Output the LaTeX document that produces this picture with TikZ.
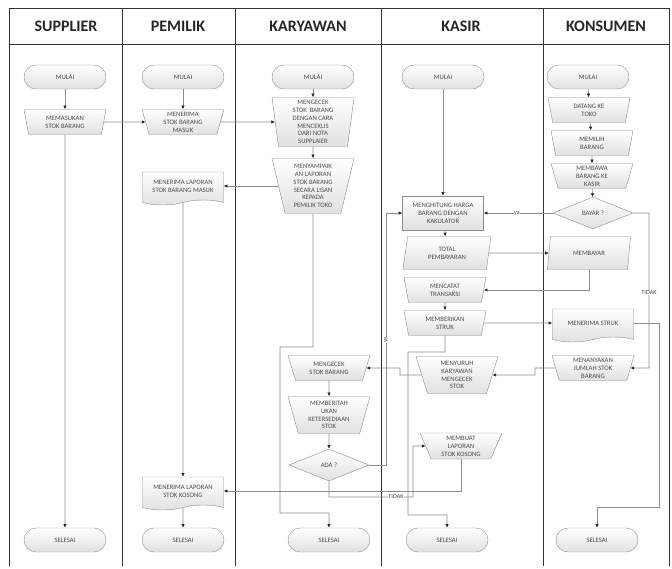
\documentclass[tikz,border=0pt]{standalone}
\usepackage{fontspec}
\setmainfont{Carlito}
\usetikzlibrary{shapes.geometric,shapes.symbols,arrows.meta}
\tikzset{
  box/.style={draw=black!45, top color=white, bottom color=black!12, text=black!70,
    font=\fontsize{6.7}{7.9}\selectfont, align=center, inner sep=1pt},
  termbox/.style={box, rectangle, rounded corners=12pt, minimum width=82pt, minimum height=24pt},
  manbox/.style={box, trapezium, trapezium left angle=#1, trapezium right angle=#1,
    shape border rotate=180, trapezium stretches body, minimum width=82pt, minimum height=25pt},
  manbox/.default=72,
  procbox/.style={box, rectangle, minimum width=81pt, minimum height=34pt},
  iobox/.style={box, trapezium, trapezium left angle=72, trapezium right angle=108,
    trapezium stretches body, minimum width=88pt, minimum height=33pt},
  docbox/.style={box, tape, tape bend top=none, tape bend bottom=in and out,
    tape bend height=5pt, minimum width=81pt, minimum height=33pt},
  decbox/.style={box, diamond, minimum width=80pt, minimum height=32pt, inner sep=0pt},
  con/.style={draw=black!45, line width=0.6pt},
  arr/.style={con, -{Latex[length=3.6pt,width=3.4pt,color=black!85]}},
  lab/.style={fill=white, inner sep=0.5pt, font=\fontsize{6.2}{7}\selectfont, text=black!70},
  lane/.style={draw=black!80, line width=0.8pt},
  head/.style={font=\fontsize{16}{19}\selectfont\bfseries, text=black!85}
}
\begin{document}
\begin{tikzpicture}[x=1pt,y=-1pt]
\useasboundingbox (0,0) rectangle (672,569);
% lanes
\draw[lane] (9,566) -- (9,8) -- (669,8) -- (669,566);
\draw[lane] (9,44) -- (669,44);
\foreach \x in {122,235,381,543} \draw[lane] (\x,8) -- (\x,566);
\node[head] (hSup) at (66,26) {SUPPLIER};
\node[head] (hPem) at (178,26) {PEMILIK};
\node[head] (hKar) at (308,26) {KARYAWAN};
\node[head] (hKas) at (461,26) {KASIR};
\node[head] (hKon) at (606,26) {KONSUMEN};

% supplier
\node[termbox] (supMulai) at (65,77) {MULAI};
\node[manbox] (supMasuk) at (65,122) {MEMASUKAN\\STOK BARANG};
\node[termbox] (supSelesai) at (65,540) {SELESAI};

% pemilik
\node[termbox] (pemMulai) at (183,77) {MULAI};
\node[manbox] (pemTerima) at (183,122) {MENERIMA\\STOK BARANG\\MASUK};
\node[docbox] (pemLapMasuk) at (183,186) {MENERIMA LAPORAN\\STOK BARANG MASUK};
\node[docbox] (pemLapKosong) at (183,491) {MENERIMA LAPORAN\\STOK KOSONG};
\node[termbox] (pemSelesai) at (183,540) {SELESAI};

% karyawan
\node[termbox] (karMulai) at (313,77) {MULAI};
\node[manbox=82, minimum height=49pt] (karCek) at (313,122)
  {MENGECEK\\STOK \ BARANG\\DENGAN CARA\\MENCEKLIS\\DARI NOTA\\SUPPLAIER};
\node[manbox=74, minimum height=55pt] (karSampai) at (313,186)
  {MENYAMPAIK\\AN LAPORAN\\STOK BARANG\\SECARA LISAN\\KEPADA\\PEMILIK TOKO};
\node[manbox=62] (karCekStok) at (329,368) {MENGECEK\\STOK BARANG};
\node[manbox=71, minimum height=37pt] (karBeritahu) at (329,415)
  {MEMBERITAH\\UKAN\\KETERSEDIAAN\\STOK};
\node[decbox] (karAda) at (329,465) {ADA ?};
\node[termbox] (karSelesai) at (329,540) {SELESAI};

% kasir
\node[termbox] (kasMulai) at (443,77) {MULAI};
\node[procbox] (kasHitung) at (443,213) {MENGHITUNG HARGA\\BARANG DENGAN\\KAKULATOR};
\node[iobox] (kasTotal) at (447,253) {TOTAL\\PEMBAYARAN};
\node[manbox] (kasCatat) at (445,290) {MENCATAT\\TRANSAKSI};
\node[manbox] (kasStruk) at (445,323) {MEMBERIKAN\\STRUK};
\node[manbox=69, minimum height=37pt] (kasSuruh) at (457,375)
  {MENYURUH\\KARYAWAN\\MENGECEK\\STOK};
\node[manbox=63, minimum height=26pt] (kasLapor) at (461,446)
  {MEMBUAT\\LAPORAN\\STOK KOSONG};
\node[termbox] (kasSelesai) at (447,540) {SELESAI};

% konsumen
\node[termbox] (konMulai) at (588,77) {MULAI};
\node[manbox] (konDatang) at (589,110) {DATANG KE\\TOKO};
\node[manbox] (konPilih) at (592,143) {MEMILIH\\BARANG};
\node[manbox] (konBawa) at (592,176) {MEMBAWA\\BARANG KE\\KASIR};
\node[decbox] (konBayarQ) at (593,213) {BAYAR ?};
\node[iobox, trapezium left angle=65, trapezium right angle=115, minimum width=83pt]
  (konBayar) at (589,253) {MEMBAYAR};
\node[docbox] (konStruk) at (593,323) {MENERIMA STRUK};
\node[manbox] (konTanya) at (593,368) {MENANYAKAN\\JUMLAH STOK\\BARANG};
\node[termbox] (konSelesai) at (597,540) {SELESAI};

% connectors
\draw[arr] (supMulai) -- (supMasuk);
\draw[arr] (supMasuk) -- (supSelesai);
\draw[arr] (supMasuk.east) -- (pemTerima.west);
\draw[arr] (pemMulai) -- (pemTerima);
\draw[arr] (pemTerima.east) -- (karCek.west);
\draw[arr] (pemLapMasuk) -- (pemLapKosong);
\draw[arr] (pemLapKosong) -- (pemSelesai);
\draw[arr] (karMulai) -- (karCek);
\draw[arr] (karCek) -- (karSampai);
\draw[arr] (karSampai.west) -- (karSampai.west -| pemLapMasuk.east);
\draw[arr] (karSampai.south) -- (313,347) -- (280,347) -- (280,513) -- (329,513) -- (karSelesai.north);
\draw[arr] (karCekStok) -- (karBeritahu);
\draw[arr] (karBeritahu) -- (karAda);
\draw[arr] (karAda.east) -- (386,465) -- (386,213) -- (kasHitung.west);
\draw[arr] (karAda.south) -- (329,497) -- (413,497) -- (413,446) -- (kasLapor.west);
\draw[arr] (kasLapor.south) |- (pemLapKosong.east);
\draw[arr] (kasMulai) -- (kasHitung);
\draw[arr] (kasHitung) -- (kasTotal);
\draw[arr] (kasTotal.east) -- (konBayar.west);
\draw[arr] (konBayar.south) |- (kasCatat.east);
\draw[arr] (kasCatat) -- (kasStruk);
\draw[arr] (kasStruk.east) -- (konStruk.west);
\draw[arr] (kasStruk.south) -- (445,352) -- (408,352) -- (408,515) -- (447,515) -- (kasSelesai.north);
\draw[arr] (kasSuruh.west) -- (400,375) -- (400,368) -- (karCekStok.east);
\draw[arr] (konMulai) -- (konDatang);
\draw[arr] (konDatang) -- (konPilih);
\draw[arr] (konPilih) -- (konBawa);
\draw[arr] (konBawa) -- (konBayarQ);
\draw[arr] (konBayarQ.west) -- (kasHitung.east);
\draw[arr] (konBayarQ.east) -- (649,213) -- (649,368) -- (konTanya.east);
\draw[arr] (konTanya.west) -- (535,368) -- (535,375) -- (kasSuruh.east);
\draw[arr] (konStruk.east) -- (659,323) -- (659,507) -- (597,507) -- (konSelesai.north);
\node[lab] (yaA) at (517,213) {ya};
\node[lab, rotate=90] (yaB) at (386,340) {ya};
\node[lab] (tidakA) at (649,293) {TIDAK};
\node[lab] (tidakB) at (396,497) {TIDAK};
\end{tikzpicture}
\end{document}
